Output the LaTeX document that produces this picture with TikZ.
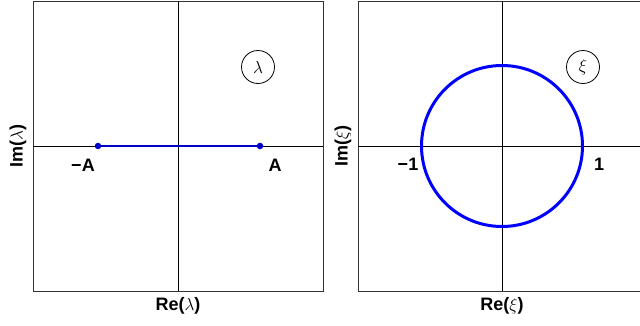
\documentclass[tikz,border=0pt]{standalone}
\usepackage{fontspec}
\setsansfont{Liberation Sans}
\usetikzlibrary{positioning}

\begin{document}
\begin{tikzpicture}[x=1pt, y=-1pt,
  frame/.style={draw=black!80, line width=0.9pt},
  axis/.style={draw=black, line width=0.7pt},
  cut/.style={draw=blue!80!black, line width=2.8pt},
  ring/.style={draw=blue, line width=3pt},
  endpt/.style={circle, fill=blue!80!black, inner sep=0pt, minimum size=6.5pt},
  lbl/.style={font=\fontsize{18}{21}\selectfont\sffamily\bfseries},
  tag/.style={draw, line width=0.8pt, circle, minimum size=33pt, inner sep=0pt,
              font=\fontsize{18}{21}\selectfont},
]
\useasboundingbox (0,0) rectangle (640,325);
\clip (0,0) rectangle (640,325);

%% Left panel: lambda plane
\draw[frame] (33,1) rectangle (323,291);
\coordinate (lw) at (33,146);  \coordinate (le) at (323,146);
\coordinate (ln) at (178,1);   \coordinate (ls) at (178,291);
\draw[axis] (lw) -- (le);
\draw[axis] (ln) -- (ls);

\node[endpt] (ma) at (98,146) {};
\node[endpt] (pa) at (260,146) {};
\draw[cut] (ma) -- (pa);
\node[lbl] (malbl) at (83,165) {−A};
\node[lbl] (palbl) at (275,165) {A};

\node[tag] (ltag) at (258,67) {$\lambda$};
\node[lbl, rotate=90] (lim) at (18,146) {Im($\lambda$)};
\node[lbl] (lre) at (178,306) {Re($\lambda$)};

%% Right panel: xi plane
\draw[frame] (358,1) rectangle (648,291);
\coordinate (rw) at (358,146);  \coordinate (re) at (648,146);
\coordinate (rn) at (502,1);    \coordinate (rs) at (502,291);
\draw[axis] (rw) -- (re);
\draw[axis] (rn) -- (rs);

\coordinate (o) at (502,146);
\draw[ring] (o) circle[radius=80.5];
\node[lbl] (mone) at (408,164) {−1};
\node[lbl] (pone) at (599,164) {1};

\node[tag] (rtag) at (583,67) {$\xi$};
\node[lbl, rotate=90] (rim) at (343,146) {Im($\xi$)};
\node[lbl] (rre) at (502,306) {Re($\xi$)};
\end{tikzpicture}
\end{document}
